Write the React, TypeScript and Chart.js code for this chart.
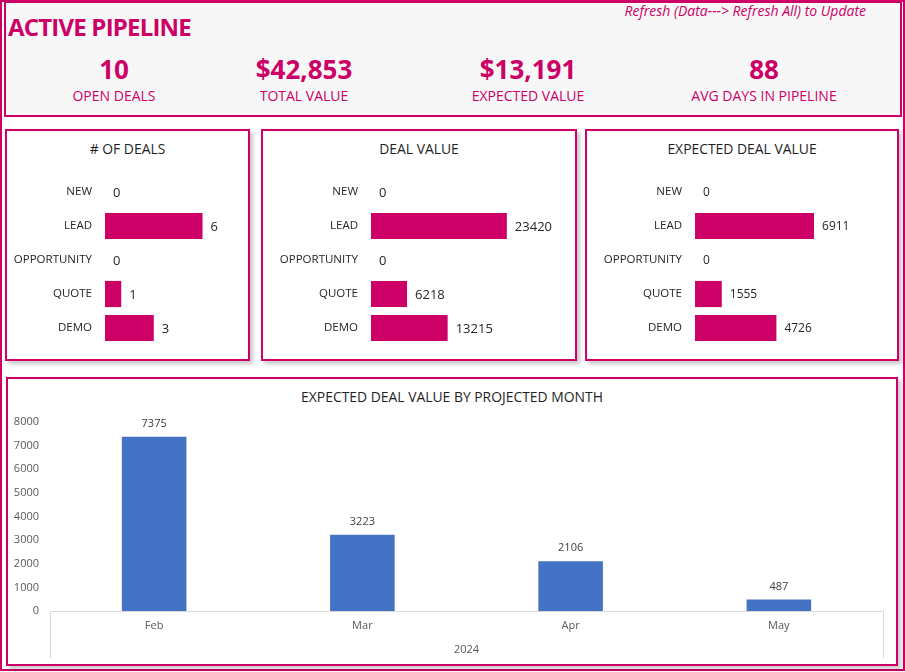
import React, { useEffect, useRef } from 'react';
import { Chart, registerables } from 'chart.js';

Chart.register(...registerables);

// ---------- DATA ----------
const stages = ['NEW', 'LEAD', 'OPPORTUNITY', 'QUOTE', 'DEMO'];
const dealCounts = [0, 6, 0, 1, 3];
const dealValues = [0, 23420, 0, 6218, 13215];
const expectedDealValues = [0, 6911, 0, 1555, 4726];
const months = ['Feb', 'Mar', 'Apr', 'May'];
const monthGroup = ['2024'];
const expectedByMonth = [7375, 3223, 2106, 487];
const kpiValues = ['10', '$42,853', '$13,191', '88'];
const kpiLabels = ['OPEN DEALS', 'TOTAL VALUE', 'EXPECTED VALUE', 'AVG DAYS IN PIPELINE'];
const monthTicks = [0, 1000, 2000, 3000, 4000, 5000, 6000, 7000, 8000];

// ---------- STYLE ----------
const PINK = '#cc0066';
const BLUE = '#4472c4';
const FONT = "'Open Sans', sans-serif";

Chart.defaults.font.family = FONT;

const noPad = (s: any) => {
  s.paddingTop = 0;
  s.paddingBottom = 0;
  s.paddingLeft = 0;
  s.paddingRight = 0;
};

const valueLabels = (fontSize: number, color: string, mode: 'right' | 'top') => ({
  id: 'valueLabels',
  afterDatasetsDraw(chart: any) {
    const ctx = chart.ctx;
    const meta = chart.getDatasetMeta(0);
    const data = chart.data.datasets[0].data as number[];
    ctx.save();
    ctx.font = `${fontSize}px ${FONT}`;
    ctx.fillStyle = color;
    meta.data.forEach((el: any, i: number) => {
      const label = String(data[i]);
      if (mode === 'right') {
        ctx.textAlign = 'left';
        ctx.textBaseline = 'middle';
        ctx.fillText(label, el.x + 8, el.y + 1);
      } else {
        ctx.textAlign = 'center';
        ctx.textBaseline = 'middle';
        ctx.fillText(label, el.x, el.y - 13);
      }
    });
    ctx.restore();
  },
});

const groupLines = {
  id: 'groupLines',
  afterDraw(chart: any) {
    const x = chart.scales.x;
    const x2 = chart.scales.x2;
    if (!x || !x2) return;
    const ctx = chart.ctx;
    ctx.save();
    ctx.strokeStyle = '#d9d9d9';
    ctx.lineWidth = 1;
    [x.left, x.right].forEach((px: number) => {
      const p = Math.round(px) + 0.5;
      ctx.beginPath();
      ctx.moveTo(p, x.top);
      ctx.lineTo(p, x2.bottom + 2);
      ctx.stroke();
    });
    ctx.restore();
  },
};

const AREA_TOP = 175;
const AREA_BOTTOM = 345;

type PanelProps = {
  left: number;
  top: number;
  width: number;
  height: number;
  title: string;
  values: number[];
  max: number;
  plotLeft: number;
  plotWidth: number;
  valueFontSize: number;
};

function Panel({ left, top, width, height }: { left: number; top: number; width: number; height: number }) {
  return (
    <div
      style={{
        position: 'absolute',
        left,
        top,
        width,
        height,
        border: `2px solid ${PINK}`,
        boxSizing: 'border-box',
        background: '#fff',
        boxShadow: '3px 3px 4px rgba(0,0,0,0.22)',
      }}
    />
  );
}

function Text({ x, y, children, style, align = 'center' }: any) {
  const tx = align === 'center' ? '-50%' : align === 'right' ? '-100%' : '0';
  return (
    <div
      style={{
        position: 'absolute',
        left: x,
        top: y,
        transform: `translate(${tx}, -50%)`,
        whiteSpace: 'nowrap',
        lineHeight: 1,
        ...style,
      }}
    >
      {children}
    </div>
  );
}

function BarPanel({ left, top, width, height, title, values, max, plotLeft, plotWidth, valueFontSize }: PanelProps) {
  const ref = useRef<HTMLCanvasElement>(null);
  const cx = left + 2;
  const cy = top + 2;
  const cw = width - 4;
  const ch = height - 4;
  useEffect(() => {
    const areaLeft = plotLeft - cx;
    const areaRight = areaLeft + plotWidth;
    const chart = new Chart(ref.current!, {
      type: 'bar',
      data: {
        labels: stages,
        datasets: [
          {
            data: values,
            backgroundColor: PINK,
            barPercentage: 0.77,
            categoryPercentage: 1,
          },
        ],
      },
      options: {
        indexAxis: 'y',
        responsive: false,
        maintainAspectRatio: false,
        animation: false,
        layout: {
          padding: { left: 0, right: cw - areaRight, top: AREA_TOP - cy, bottom: cy + ch - AREA_BOTTOM },
        },
        plugins: { legend: { display: false }, tooltip: { enabled: false } },
        scales: {
          x: { display: false, min: 0, max },
          y: {
            grid: { display: false, drawTicks: false },
            border: { display: false },
            ticks: { padding: 13, color: '#262626', font: { size: 11.5 } },
            afterFit: (s: any) => {
              s.width = areaLeft;
              noPad(s);
            },
          },
        },
      } as any,
      plugins: [valueLabels(valueFontSize, '#262626', 'right')],
    });
    return () => chart.destroy();
  }, []);
  return (
    <>
      <Panel left={left} top={top} width={width} height={height} />
      <Text x={left + width / 2} y={149} style={{ fontSize: 13.9, color: '#1f1f1f' }}>
        {title}
      </Text>
      <canvas
        ref={ref}
        width={cw}
        height={ch}
        style={{ position: 'absolute', left: cx, top: cy, width: cw, height: ch }}
      />
    </>
  );
}

function MonthChart() {
  const ref = useRef<HTMLCanvasElement>(null);
  const left = 6;
  const top = 377;
  const width = 892;
  const height = 289;
  const cx = left + 2;
  const cy = top + 2;
  const cw = width - 4;
  const ch = height - 4;
  useEffect(() => {
    const areaLeft = 50 - cx;
    const areaRight = 883 - cx;
    const areaTop = 422 - cy;
    const areaBottom = 611 - cy;
    const chart = new Chart(ref.current!, {
      type: 'bar',
      data: {
        labels: months,
        datasets: [
          {
            data: expectedByMonth,
            backgroundColor: BLUE,
            barPercentage: 0.31,
            categoryPercentage: 1,
          },
        ],
      },
      options: {
        responsive: false,
        maintainAspectRatio: false,
        animation: false,
        layout: {
          padding: { left: 0, right: cw - areaRight, top: areaTop, bottom: ch - areaBottom - 21 - 24 },
        },
        plugins: { legend: { display: false }, tooltip: { enabled: false } },
        scales: {
          y: {
            min: 0,
            max: 8000,
            afterBuildTicks: (s: any) => {
              s.ticks = monthTicks.map((v) => ({ value: v }));
            },
            grid: { display: false, drawTicks: false },
            border: { display: false },
            ticks: {
              padding: 11,
              color: '#595959',
              font: { size: 11 },
              callback: (v: any) => String(v),
            },
            afterFit: (s: any) => {
              s.width = areaLeft;
              noPad(s);
            },
          },
          x: {
            type: 'category',
            offset: true,
            grid: { display: false, drawTicks: false },
            border: { display: true, color: '#d9d9d9', width: 1 },
            ticks: { padding: 8, color: '#595959', font: { size: 11 } },
            afterFit: (s: any) => {
              s.height = 21;
              noPad(s);
            },
          },
          x2: {
            type: 'category',
            position: 'bottom',
            labels: monthGroup,
            offset: true,
            grid: { display: false, drawTicks: false },
            border: { display: false },
            ticks: { padding: 11, color: '#595959', font: { size: 11 } },
            afterFit: (s: any) => {
              s.height = 24;
              noPad(s);
            },
          },
        },
      } as any,
      plugins: [valueLabels(11, '#404040', 'top'), groupLines],
    });
    return () => chart.destroy();
  }, []);
  return (
    <>
      <Panel left={left} top={top} width={width} height={height} />
      <Text x={452} y={397} style={{ fontSize: 13.9, color: '#1f1f1f' }}>
        EXPECTED DEAL VALUE BY PROJECTED MONTH
      </Text>
      <canvas
        ref={ref}
        width={cw}
        height={ch}
        style={{ position: 'absolute', left: cx, top: cy, width: cw, height: ch }}
      />
    </>
  );
}

const kpiCenters = [114, 304, 528, 764];

export default function App() {
  return (
    <div
      style={{
        position: 'fixed',
        left: 0,
        top: 0,
        width: 905,
        height: 672,
        background: '#fff',
        fontFamily: FONT,
        overflow: 'hidden',
      }}
    >
      <div
        style={{
          position: 'absolute',
          left: 0,
          top: 0,
          width: 905,
          height: 671,
          border: `2px solid ${PINK}`,
          boxSizing: 'border-box',
        }}
      />
      <div
        style={{
          position: 'absolute',
          left: 4,
          top: 1,
          width: 898,
          height: 116,
          border: `2px solid ${PINK}`,
          boxSizing: 'border-box',
          background: '#f7f7f7',
        }}
      />
      <Text
        x={8}
        y={27}
        align="left"
        style={{ fontSize: 24, fontWeight: 700, color: PINK, letterSpacing: -0.8 }}
      >
        ACTIVE PIPELINE
      </Text>
      <Text x={866} y={11} align="right" style={{ fontSize: 14, fontStyle: 'italic', color: PINK }}>
        Refresh (Data---&gt; Refresh All) to Update
      </Text>
      {kpiValues.map((v, i) => (
        <Text key={'v' + i} x={kpiCenters[i]} y={69} style={{ fontSize: 26, fontWeight: 700, color: PINK }}>
          {v}
        </Text>
      ))}
      {kpiLabels.map((l, i) => (
        <Text key={'l' + i} x={kpiCenters[i]} y={96} style={{ fontSize: 14, color: PINK }}>
          {l}
        </Text>
      ))}
      <BarPanel
        left={5}
        top={129}
        width={245}
        height={232}
        title="# OF DEALS"
        values={dealCounts}
        max={8}
        plotLeft={105}
        plotWidth={130}
        valueFontSize={13}
      />
      <BarPanel
        left={261}
        top={129}
        width={316}
        height={232}
        title="DEAL VALUE"
        values={dealValues}
        max={30000}
        plotLeft={371}
        plotWidth={174}
        valueFontSize={13}
      />
      <BarPanel
        left={585}
        top={129}
        width={314}
        height={232}
        title="EXPECTED DEAL VALUE"
        values={expectedDealValues}
        max={9000}
        plotLeft={695}
        plotWidth={155}
        valueFontSize={12}
      />
      <MonthChart />
    </div>
  );
}
